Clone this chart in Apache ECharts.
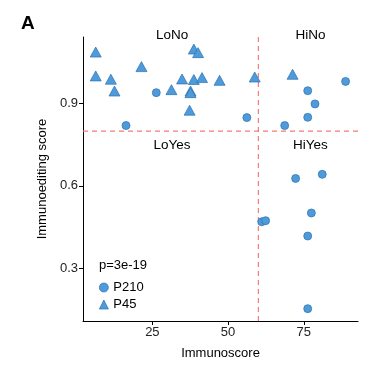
<!DOCTYPE html>
<html>
<head>
<meta charset="utf-8" />
<title>Immunoscore vs immunoediting</title>
<style>body{margin:0}</style>
</head>
<body>
<div id="main" style="width:376px;height:381px"></div>
<script src="https://cdn.jsdelivr.net/npm/echarts@6/dist/echarts.min.js"></script>
<script>
// P210 cohort (circles): [immunoscore, immunoediting score]
var p210 = [
  [26.3, 0.94], [16.3, 0.82], [56.2, 0.849], [68.7, 0.82], [76.3, 0.947],
  [78.7, 0.899], [76.3, 0.85], [88.8, 0.981], [72.3, 0.627], [81.1, 0.642],
  [77.5, 0.501], [61.1, 0.469], [62.4, 0.473], [76.3, 0.417], [76.3, 0.152]
];
// P45 cohort (triangles)
var p45 = [
  [6.3, 1.088], [6.3, 1.001], [11.3, 0.989], [12.5, 0.946], [21.4, 1.035],
  [31.3, 0.951], [34.8, 0.99], [37.6, 0.946], [37.6, 0.94], [37.3, 0.876],
  [38.7, 1.099], [40.1, 1.086], [38.7, 0.988], [41.4, 0.995], [47.2, 0.985],
  [58.8, 0.997], [71.3, 1.007]
];
var xTicks = [25, 50, 75];
var yTicks = [0.3, 0.6, 0.9];
var cutX = 60, cutY = 0.8;
var quadrants = [
  { name: 'LoNo', value: [31.5, 1.15] },
  { name: 'HiNo', value: [77.2, 1.15] },
  { name: 'LoYes', value: [31.5, 0.748] },
  { name: 'HiYes', value: [77.2, 0.748] }
];

var xMin = 2.1, xMax = 92.9, yMin = 0.107, yMax = 1.143;
var font = 'Liberation Sans, Arial, sans-serif';
var fill = '#4E9BDB', stroke = '#2F70AD';
var red = '#F47A7A';

function cutSeries(points) {
  return {
    type: 'line', data: points, symbol: 'none', silent: true, z: 1,
    lineStyle: { color: red, type: [5, 4], width: 1.2 },
    itemStyle: { color: red }
  };
}

var chart = echarts.init(document.getElementById('main'));
chart.setOption({
  animation: false,
  textStyle: { fontFamily: font },
  grid: { left: 83, right: 18, top: 37, bottom: 60 },
  graphic: [
    { type: 'text', left: 21, top: 14, style: { text: 'A', font: 'bold 19px ' + font, fill: '#000' } },
    { type: 'text', left: 99, top: 259, style: { text: 'p=3e-19', font: '13px ' + font, fill: '#000' } }
  ],
  legend: {
    orient: 'vertical', left: 94, top: 276, itemGap: 4,
    itemWidth: 9, itemHeight: 9,
    itemStyle: { borderWidth: 0.7 },
    textStyle: { fontSize: 13, color: '#000', fontFamily: font },
    data: ['P210', 'P45']
  },
  xAxis: {
    type: 'value', min: xMin, max: xMax,
    name: 'Immunoscore', nameLocation: 'middle', nameGap: 26,
    nameTextStyle: { fontSize: 13, color: '#000' },
    axisLine: { lineStyle: { color: '#000', width: 1 } },
    axisTick: { customValues: xTicks, length: 4, lineStyle: { color: '#000' } },
    axisLabel: { customValues: xTicks, fontSize: 13, color: '#222', margin: 5 },
    splitLine: { show: false }
  },
  yAxis: {
    type: 'value', min: yMin, max: yMax,
    name: 'Immunoediting score', nameLocation: 'middle', nameGap: 34,
    nameTextStyle: { fontSize: 13, color: '#000' },
    axisLine: { onZero: false, lineStyle: { color: '#000', width: 1 } },
    axisTick: { customValues: yTicks, length: 4, lineStyle: { color: '#000' } },
    axisLabel: { customValues: yTicks, fontSize: 13, color: '#222', margin: 5,
      formatter: function (v) { return v.toFixed(1); } },
    splitLine: { show: false }
  },
  series: [
    cutSeries([[cutX, yMin], [cutX, yMax]]),
    cutSeries([[xMin, cutY], [xMax, cutY]]),
    {
      name: 'P210', type: 'scatter', symbol: 'circle', symbolSize: 8,
      itemStyle: { color: fill, borderColor: stroke, borderWidth: 0.7, opacity: 1 },
      data: p210,
      z: 3
    },
    {
      name: 'P45', type: 'scatter', symbol: 'triangle', symbolSize: [11, 10],
      itemStyle: { color: fill, borderColor: stroke, borderWidth: 0.7, opacity: 1 },
      data: p45,
      z: 3
    },
    {
      type: 'scatter', symbolSize: 0, silent: true, clip: false,
      itemStyle: { opacity: 1 },
      data: quadrants,
      label: { show: true, position: 'inside', formatter: '{b}', fontSize: 13.5, color: '#000' }
    }
  ]
});
</script>
</body>
</html>
